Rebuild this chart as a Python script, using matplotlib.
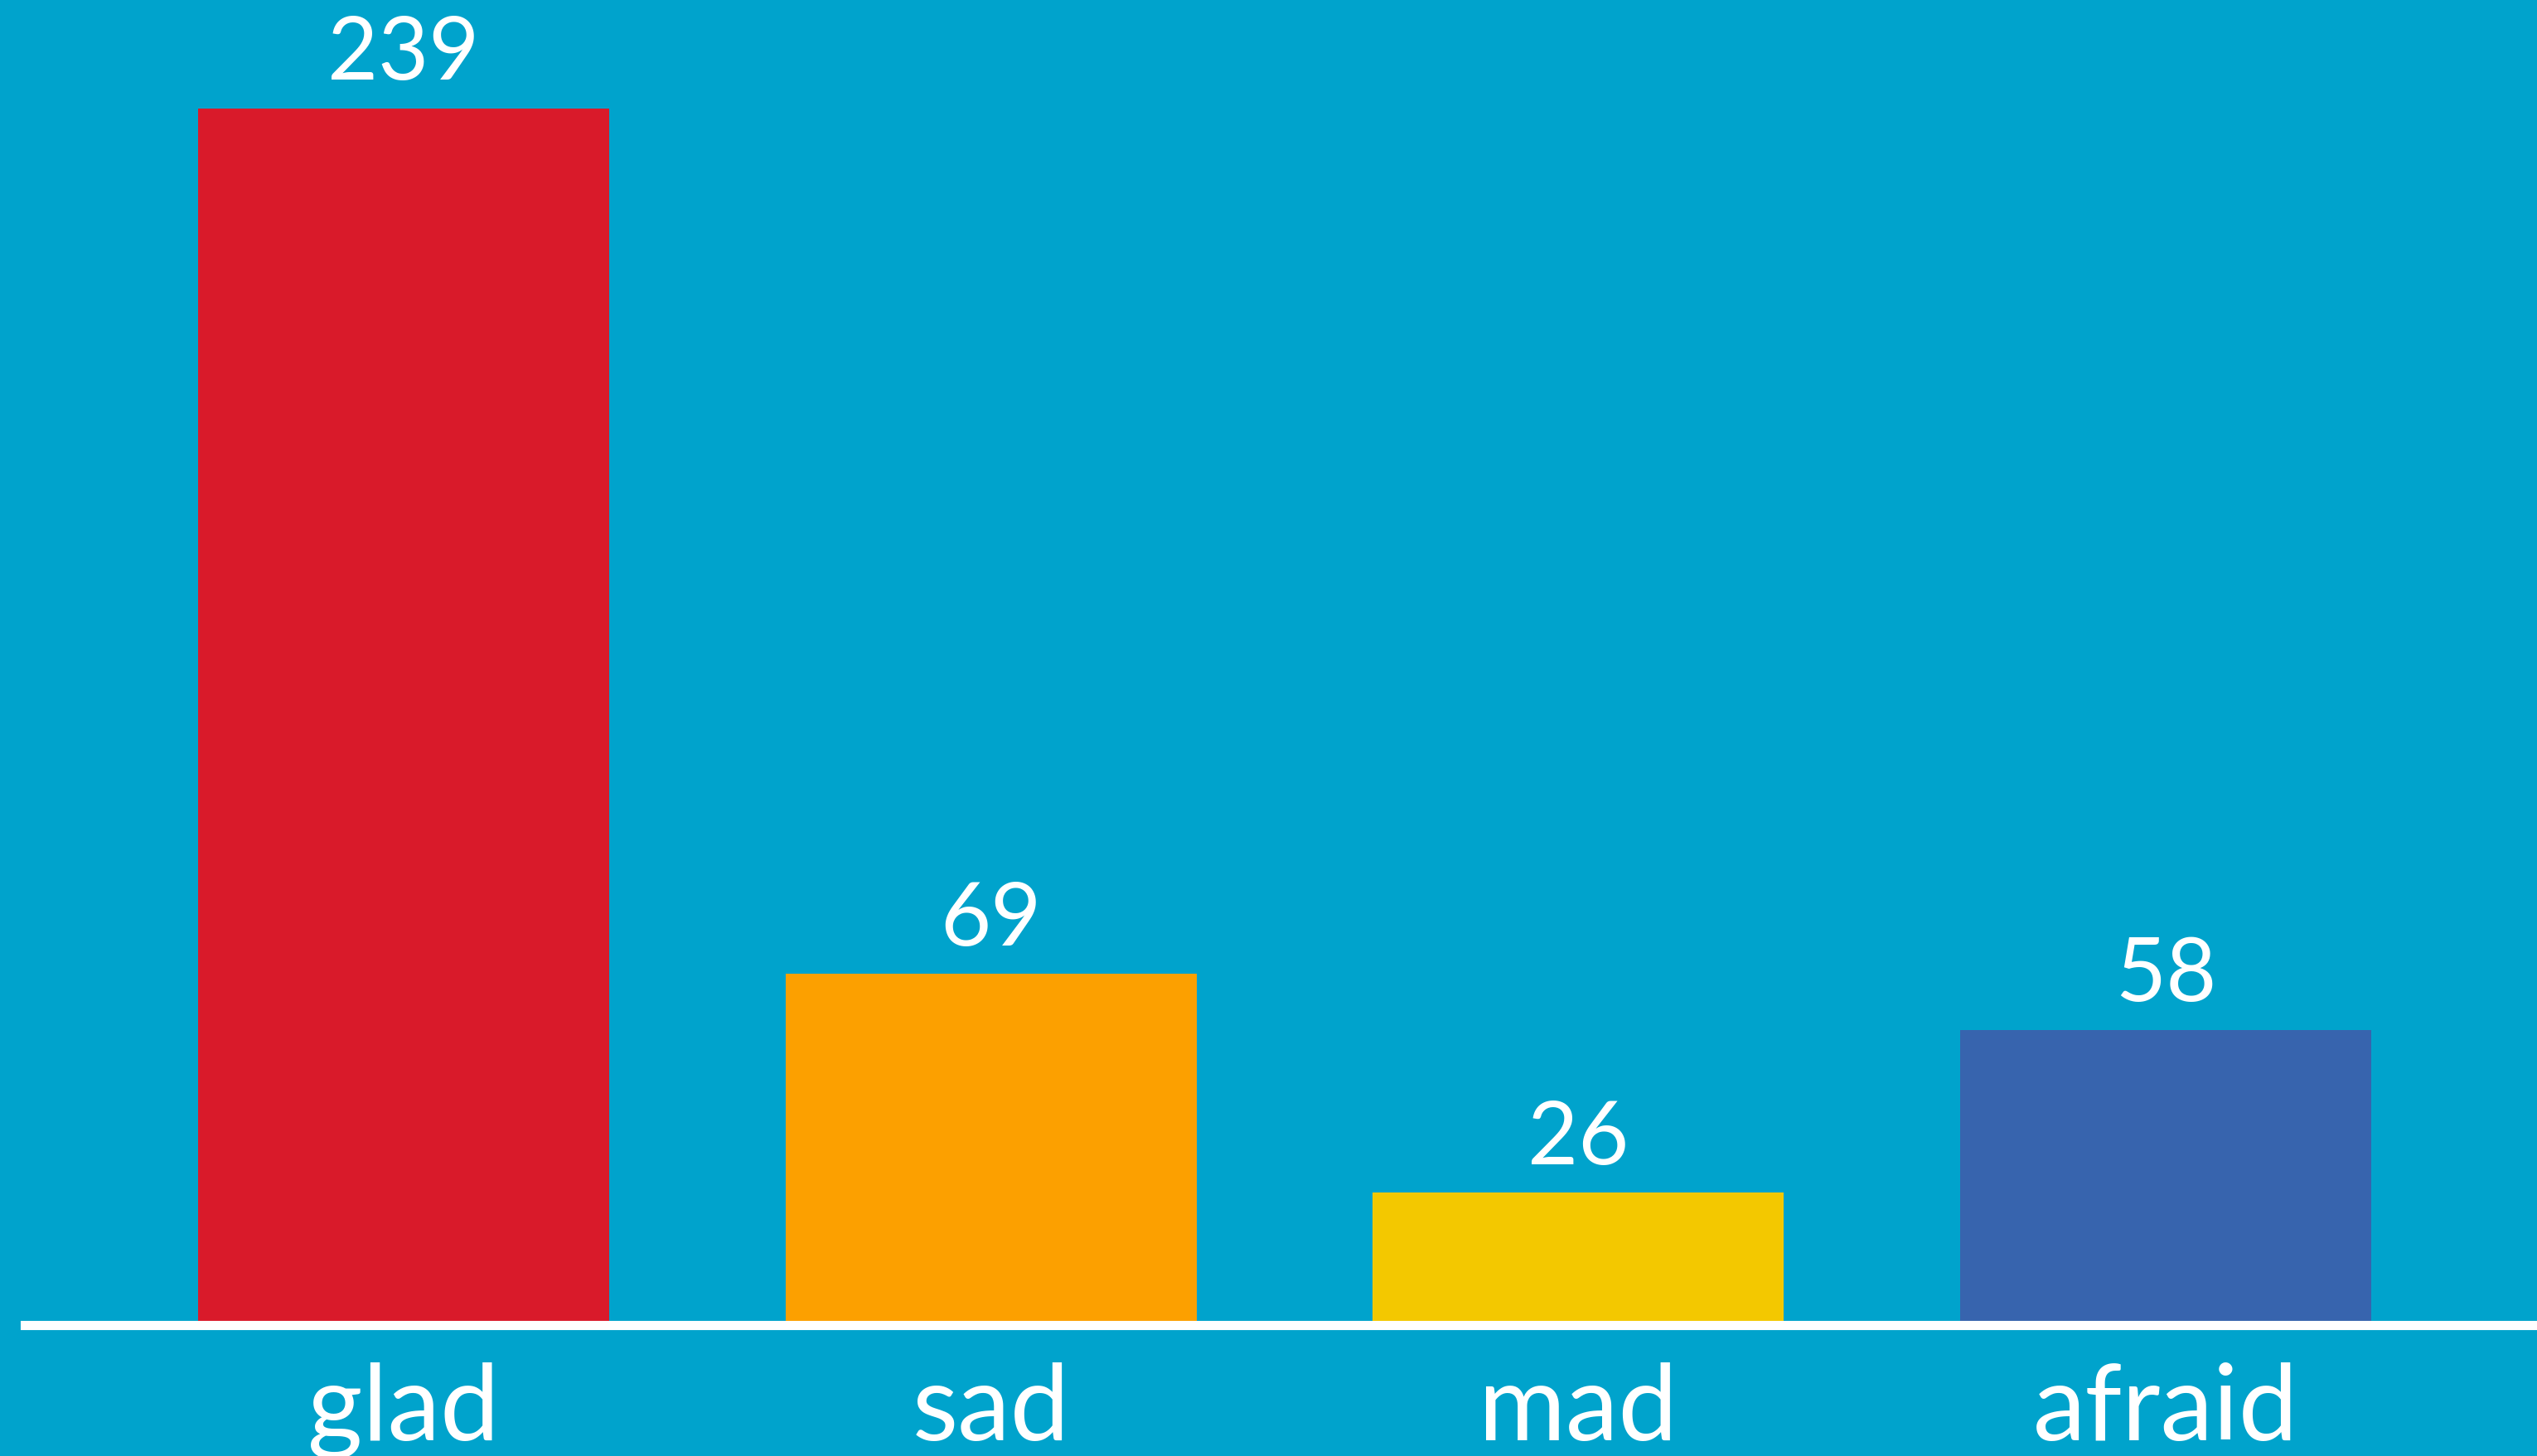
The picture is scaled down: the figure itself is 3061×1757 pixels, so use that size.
import matplotlib.pyplot as plt

# data
categories = ['glad', 'sad', 'mad', 'afraid']
counts = [239, 69, 26, 58]
bar_colors = ['#D91A2A', '#FCA000', '#F3C800', '#3764AE']
bg_color = '#00A3CC'

plt.rcParams['font.family'] = ['Lato', 'DejaVu Sans']

fig = plt.figure(figsize=(30.61, 17.57), dpi=100, facecolor=bg_color)
ax = fig.add_axes([0, 0, 1, 1])
ax.set_facecolor(bg_color)

x = list(range(len(categories)))
bars = ax.bar(x, counts, width=0.7, color=bar_colors, zorder=2)

# value labels above the bars
ax.bar_label(bars, labels=[str(v) for v in counts], padding=12,
             color='white', fontsize=76)

ax.set_xlim(-0.687, 3.632)
ax.set_ylim(-25.7, 260.3)

# baseline
for side in ['top', 'right', 'left']:
    ax.spines[side].set_visible(False)
ax.spines['bottom'].set_position(('data', 0))
ax.spines['bottom'].set_color('white')
ax.spines['bottom'].set_linewidth(8)
ax.spines['bottom'].set_bounds(-0.645, 3.632)
ax.spines['bottom'].set_zorder(3)

ax.set_yticks([])
ax.set_xticks(x)
ax.set_xticklabels(categories, fontsize=92, color='white')
ax.tick_params(axis='x', length=0, pad=32)

fig.savefig('out.png', dpi=100, facecolor=bg_color)
